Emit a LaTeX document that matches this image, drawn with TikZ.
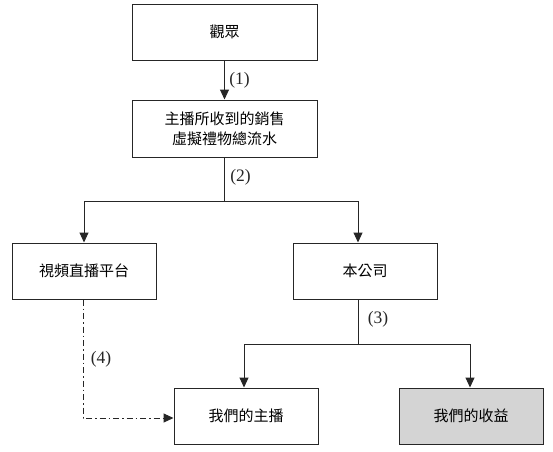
\documentclass[tikz,border=0pt]{standalone}
\usepackage{fontspec}
\setmainfont{Liberation Serif}
\newfontfamily\cjk{Noto Sans CJK TC}
\usetikzlibrary{arrows.meta}
\begin{document}
\begin{tikzpicture}[x=1pt,y=-1pt,
  box/.style={draw=black!85,line width=1pt,minimum width=144pt,minimum height=56pt,inner sep=0pt,align=center,font=\cjk\fontsize{15}{20}\selectfont},
  conn/.style={draw=black!85,line width=1pt},
  arr/.style={conn,-{Triangle[length=10pt,width=9pt]}},
  lbl/.style={font=\fontsize{17.5}{19}\selectfont,text=black!85}]
\useasboundingbox (0,0) rectangle (553,451);
\node[box,minimum width=185pt] (aud) at (224.5,32) {觀眾};
\node[box,minimum width=185pt,minimum height=57pt] (gross) at (224.5,128.5) {主播所收到的銷售\\虛擬禮物總流水};
\node[box] (plat) at (84,271) {視頻直播平台};
\node[box] (co) at (365,271) {本公司};
\node[box] (host) at (246,416) {我們的主播};
\node[box,fill=black!17] (rev) at (471,416) {我們的收益};
\coordinate (j2) at (224.5,201);
\coordinate (j2l) at (84,201);
\coordinate (j2r) at (358,201);
\coordinate (j3) at (358,344);
\coordinate (j3l) at (244,344);
\coordinate (j3r) at (470,344);
\coordinate (j4) at (83,418);
\draw[arr] (aud) -- (gross) node[midway,right,lbl,xshift=1pt] {(1)};
\draw[conn] (gross) -- (j2) node[midway,right,lbl,xshift=2pt,yshift=2pt] {(2)};
\draw[conn] (j2l) -- (j2r);
\draw[arr] (j2l) -- (plat.north -| j2l);
\draw[arr] (j2r) -- (co.north -| j2r);
\draw[conn] (co.south -| j3) -- (j3) node[midway,right,lbl,xshift=6pt,yshift=2pt] {(3)};
\draw[conn] (j3l) -- (j3r);
\draw[arr] (j3l) -- (host.north -| j3l);
\draw[arr] (j3r) -- (rev.north -| j3r);
\draw[arr,dash pattern=on 6pt off 3pt on 1.5pt off 3pt] (plat.south -| j4) -- (j4) -- (host.west |- j4);
\node[lbl] (l4) at (101,359) {(4)};
\end{tikzpicture}
\end{document}
